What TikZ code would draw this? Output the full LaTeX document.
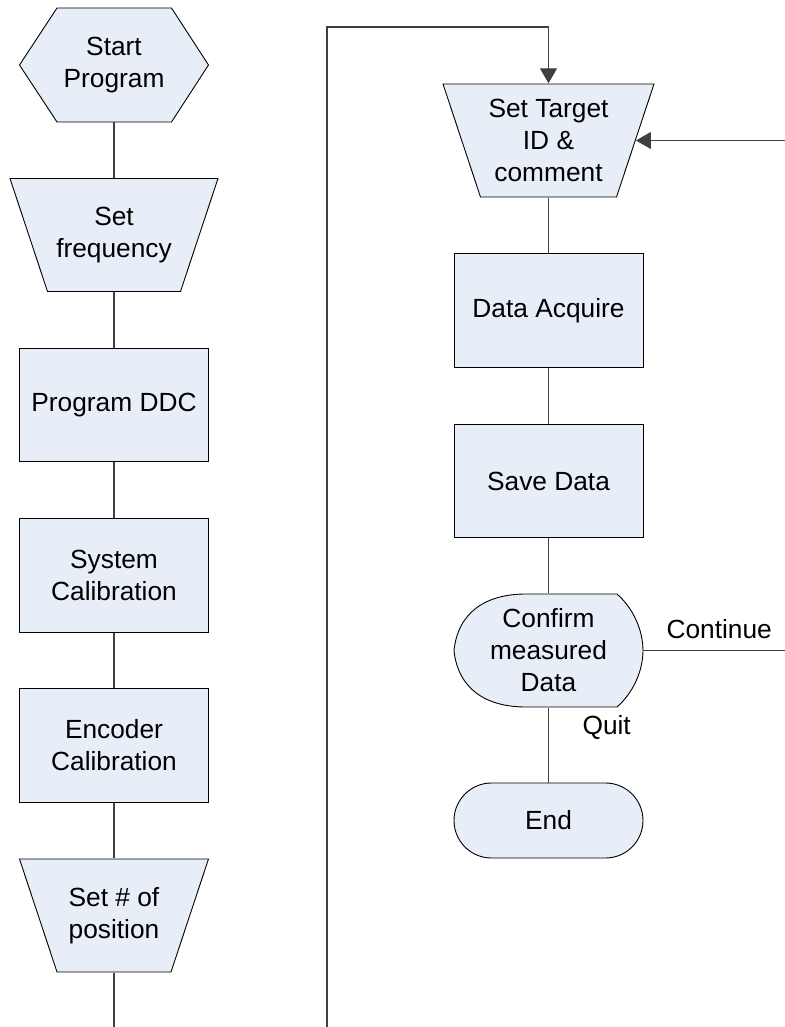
\documentclass[tikz,border=0pt]{standalone}
\usepackage{fontspec}
\setmainfont{Liberation Sans}
\usetikzlibrary{arrows.meta,positioning}
\definecolor{boxfill}{RGB}{232,238,247}
\newcommand{\chartfont}{\fontsize{26.3pt}{32pt}\selectfont}
% manual-input outline: centre x, centre y, half of top width
\newcommand{\manualop}[3]{%
  \draw[shapeline] (#1-#3,#2-56.5) -- (#1+#3,#2-56.5) -- (#1+#3-37.5,#2+56.5)
    -- (#1-#3+37.5,#2+56.5) -- cycle;}

\begin{document}
\begin{tikzpicture}[>={Triangle[length=15pt,width=17pt]},x=1pt,y=-1pt,
  box/.style={draw,fill=boxfill,line width=0.9pt,minimum width=189pt,
    minimum height=113.5pt,align=center,font=\chartfont,inner sep=2pt},
  openbox/.style={box,draw=none,fill=none},
  terminal/.style={box,minimum height=75pt,rounded corners=37.5pt},
  shapeline/.style={line width=0.9pt,fill=boxfill},
  link/.style={line width=1.1pt,draw=black!75},
  tag/.style={font=\chartfont,inner sep=0pt}]
  \useasboundingbox (0,0) rectangle (784,1027);
  % ---- outlines drawn first (hexagon, manual inputs, display) ----
  \draw[shapeline] (19.5,65) -- (57,8) -- (171.5,8) -- (208.5,65)
    -- (171.5,122) -- (57,122) -- cycle;
  \manualop{114}{235}{104}
  \manualop{114}{915.5}{94.5}
  \manualop{548.5}{140.5}{105.5}
  \draw[shapeline] (454,650.5) .. controls (458,612) and (486,594) .. (526,594)
    -- (617,594) .. controls (633,608) and (643,630) .. (643,650.5)
    .. controls (643,671) and (633,693) .. (617,707) -- (526,707)
    .. controls (486,707) and (458,689) .. (454,650.5) -- cycle;
  % ---- left column ----
  \node[openbox] (start)  at (114,65)    {Start\\Program};
  \node[openbox,minimum width=208pt] (freq) at (114,235) {Set\\frequency};
  \node[box]     (ddc)    at (114,405)   {Program DDC};
  \node[box]     (syscal) at (114,575.5) {System\\Calibration};
  \node[box]     (enccal) at (114,745.5) {Encoder\\Calibration};
  \node[openbox] (setpos) at (114,915.5) {Set \# of\\position};
  % ---- right column ----
  \node[openbox,minimum width=211pt] (tgt) at (548.5,140.5) {Set Target\\ID \&\\comment};
  \node[box]      (acq)  at (548.5,310.5) {Data Acquire};
  \node[box]      (save) at (548.5,481)   {Save Data};
  \node[openbox]  (conf) at (548.5,650.5) {Confirm\\measured\\Data};
  \node[terminal] (stop) at (548.5,820.5) {End};
  % ---- connectors ----
  \foreach \a/\b in {start/freq,freq/ddc,ddc/syscal,syscal/enccal,enccal/setpos,
                     tgt/acq,acq/save,save/conf}
    \draw[link] (\a.south) -- (\b.north);
  \draw[link] (conf.south) --
    node[tag,at start,anchor=base west,xshift=33.5pt,yshift=-27pt]{Quit} (stop.north);
  % loop back from the bottom of the left column
  \draw[link,->] (setpos.south) -- (114,1045) -- (327,1045) -- (327,27) -| (tgt.north);
  \draw[link,->] (conf.east) --
    node[tag,midway,anchor=base,yshift=12.5pt]{Continue} (795,650.5)
    |- ([xshift=-18.5pt]tgt.east);
\end{tikzpicture}
\end{document}
